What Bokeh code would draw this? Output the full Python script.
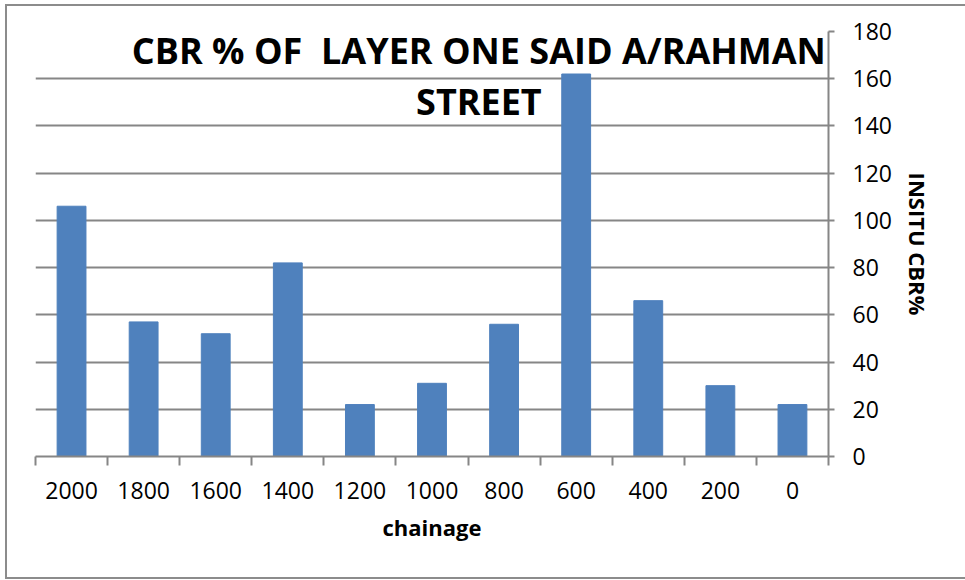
from bokeh.plotting import figure
from bokeh.models import FixedTicker, Range1d, Label, ColumnDataSource
from bokeh.embed import file_html
from bokeh.resources import INLINE

chainage = ["2000", "1800", "1600", "1400", "1200", "1000", "800", "600", "400", "200", "0"]
cbr = [106, 57, 52, 82, 22, 31, 56, 162, 66, 30, 22]
y_ticks = [0, 20, 40, 60, 80, 100, 120, 140, 160, 180]
title_lines = ["CBR % OF \u00a0LAYER ONE SAID A/RAHMAN", "STREET"]

GRAY = "#868686"
BLUE = "#4F81BD"
FONT = "Open Sans"

n = len(chainage)
centers = [i + 0.5 for i in range(n)]
bounds = [i for i in range(n + 1)]

src = ColumnDataSource(dict(x=centers, top=cbr, label=chainage))

p = figure(width=960, height=575, output_backend="svg", toolbar_location=None,
           x_range=Range1d(0, n), y_range=Range1d(0, 180),
           y_axis_location="right",
           min_border_left=28, min_border_right=139, min_border_top=25, min_border_bottom=125,
           margin=(4, 0, 0, 5),
           styles={"border-left": "2px solid #8c8c8c", "border-top": "2px solid #8c8c8c",
                   "border-bottom": "2px solid #8c8c8c", "box-sizing": "border-box"})
p.outline_line_color = None
p.background_fill_color = "white"
p.border_fill_color = "white"

p.vbar(x="x", top="top", width=0.4, bottom=0, source=src, fill_color=BLUE, line_color=BLUE)

# x axis
xa = p.xaxis[0]
xa.ticker = FixedTicker(ticks=centers, minor_ticks=bounds)
xa.major_label_overrides = {c: lab for c, lab in zip(centers, chainage)}
xa.major_tick_line_color = None
xa.major_tick_out = 0
xa.major_tick_in = 0
xa.minor_tick_line_color = GRAY
xa.minor_tick_line_width = 2
xa.minor_tick_out = 9
xa.minor_tick_in = 0
xa.axis_line_color = GRAY
xa.axis_line_width = 2
xa.major_label_text_font = FONT
xa.major_label_text_font_size = "23px"
xa.major_label_text_color = "black"
xa.major_label_standoff = 16
xa.axis_label = "chainage"
xa.axis_label_text_font = FONT
xa.axis_label_text_font_style = "bold"
xa.axis_label_text_font_size = "22px"
xa.axis_label_text_color = "black"
xa.axis_label_standoff = 10

# y axis
ya = p.yaxis[0]
ya.ticker = FixedTicker(ticks=y_ticks)
ya.axis_line_color = GRAY
ya.axis_line_width = 2
ya.major_tick_line_color = GRAY
ya.major_tick_line_width = 2
ya.major_tick_out = 6
ya.major_tick_in = 0
ya.minor_tick_line_color = None
ya.major_label_text_font = FONT
ya.major_label_text_font_size = "23px"
ya.major_label_text_color = "black"
ya.major_label_standoff = 18
ya.axis_label = "INSITU CBR%"
ya.axis_label_text_font = FONT
ya.axis_label_text_font_style = "bold"
ya.axis_label_text_font_size = "22px"
ya.axis_label_text_color = "black"
ya.axis_label_standoff = 8

p.xgrid.grid_line_color = None
p.ygrid.ticker = FixedTicker(ticks=y_ticks)
p.ygrid.grid_line_color = GRAY
p.ygrid.grid_line_width = 2

for txt, yy in zip(title_lines, [172, 150.5]):
    p.add_layout(Label(x=6.15, y=yy, text=txt, text_align="center", text_baseline="middle",
                       text_font=FONT, text_font_style="bold", text_font_size="36px",
                       text_color="black"))

open("out.html", "w").write(file_html(p, INLINE))
